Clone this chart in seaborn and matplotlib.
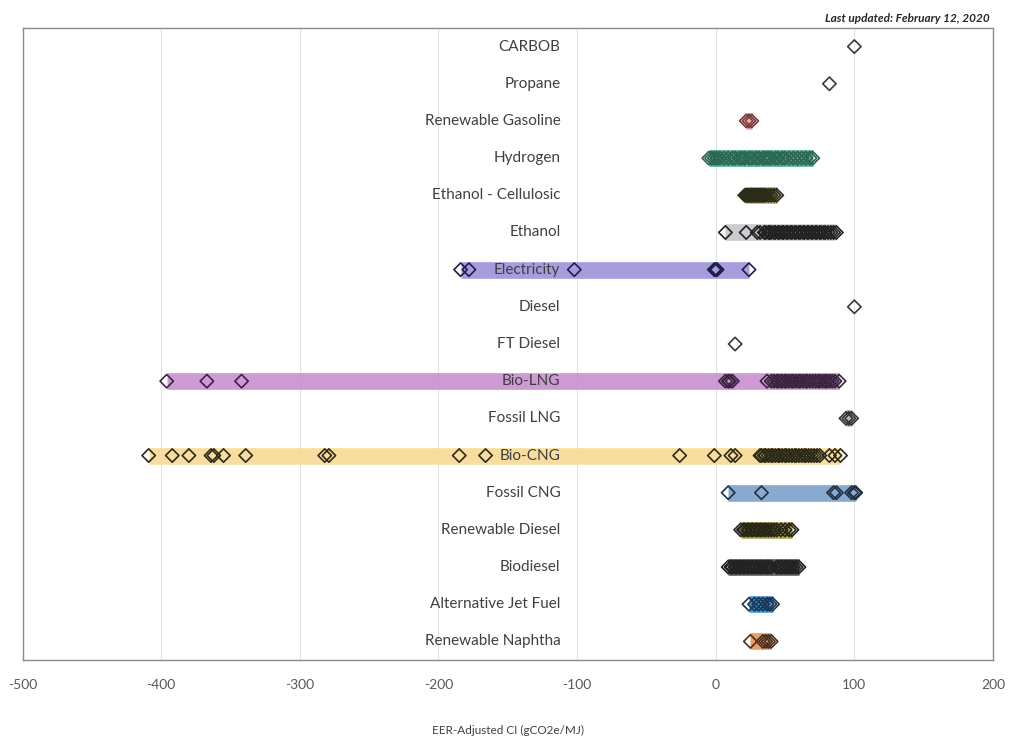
import numpy as np
import pandas as pd
import seaborn as sns
import matplotlib.pyplot as plt

sns.set_style("white")
plt.rcParams['font.family'] = ['Lato', 'DejaVu Sans']

# fuel categories, top to bottom
fuels = ['CARBOB', 'Propane', 'Renewable Gasoline', 'Hydrogen', 'Ethanol - Cellulosic',
         'Ethanol', 'Electricity', 'Diesel', 'FT Diesel', 'Bio-LNG', 'Fossil LNG',
         'Bio-CNG', 'Fossil CNG', 'Renewable Diesel', 'Biodiesel',
         'Alternative Jet Fuel', 'Renewable Naphtha']

# EER-adjusted CI of certified pathways (gCO2e/MJ)
carbob = [100]
propane = [82]
renewable_gasoline = [22, 24, 26]
hydrogen = [-5, -3, -1, 1, 3, 6, 9, 12, 14, 17, 19, 21, 24, 26, 29, 31, 34, 36, 38,
            40, 43, 45, 48, 50, 53, 56, 59, 62, 65, 68, 70]
ethanol_cellulosic = [21, 22, 23, 24, 25, 26, 27, 28, 29, 30, 31, 32, 33, 34, 35, 36,
                      38, 40, 42, 44]
ethanol = [7, 22, 30, 32, 35, 36, 38, 39, 40, 42, 43, 45, 46, 48, 49, 51, 52, 54, 55,
           57, 58, 60, 61, 63, 64, 66, 67, 69, 70, 72, 73, 75, 76, 78, 79, 81, 83, 85, 87]
electricity = [-184, -178, -102, -1, 0, 1, 24]
diesel = [100]
ft_diesel = [14]
bio_lng = [-396, -367, -342, 7, 9, 10, 12, 37, 40, 42, 44, 45, 47, 48, 50, 51, 53, 55,
           56, 58, 60, 61, 63, 65, 66, 68, 70, 72, 74, 75, 77, 79, 80, 82, 84, 86, 89]
fossil_lng = [94, 96, 98]
bio_cng = [-409, -392, -380, -364, -362, -355, -339, -282, -279, -185, -166, -26, -1,
           11, 14, 32, 33, 35, 36, 38, 40, 41, 43, 45, 46, 48, 50, 51, 53, 55, 57, 58,
           60, 62, 64, 65, 67, 69, 71, 73, 75, 82, 86, 90]
fossil_cng = [9, 33, 85, 87, 98, 100, 101]
renewable_diesel = [18, 20, 21, 23, 24, 26, 27, 29, 30, 32, 33, 35, 36, 38, 40, 42, 44,
                    47, 50, 53, 55]
biodiesel = [9, 11, 12, 14, 15, 17, 18, 20, 21, 23, 24, 26, 27, 29, 30, 32, 33, 35, 37,
             38, 40, 44, 45, 47, 48, 50, 51, 53, 54, 56, 58, 60]
alt_jet = [24, 28, 31, 34, 37, 39, 41]
renewable_naphtha = [25, 34, 36, 38, 40]

values = [carbob, propane, renewable_gasoline, hydrogen, ethanol_cellulosic, ethanol,
          electricity, diesel, ft_diesel, bio_lng, fossil_lng, bio_cng, fossil_cng,
          renewable_diesel, biodiesel, alt_jet, renewable_naphtha]

band_colors = ['#cccccc', '#cccccc', '#e8a0a8', '#3aa57f', '#b9a845', '#c6c6cb',
               '#9d93dc', '#cccccc', '#cccccc', '#c88fd0', '#b0b0b0', '#f8da95',
               '#7ba1c9', '#a89a3c', '#505050', '#2b8fd8', '#e99550']
edge_colors = ['#3a3a3a', '#3a3a3a', '#7a3b3b', '#2c6650', '#2b2b1a', '#222222',
               '#1f1f4a', '#3a3a3a', '#3a3a3a', '#3a2540', '#333333', '#2e2a18',
               '#1f2f45', '#26261a', '#222222', '#1d3550', '#4a3020']

df = pd.DataFrame({'fuel': np.repeat(fuels, [len(v) for v in values]),
                   'ci': np.concatenate(values)})

fig = plt.figure(figsize=(10.13, 7.41), dpi=100)
ax = fig.add_axes([22.5 / 1013, 1 - 660 / 741, 970.5 / 1013, 632 / 741])

# range band for each fuel
for i, f in enumerate(fuels):
    sub = df[df.fuel == f]
    ax.hlines(i, sub.ci.min(), sub.ci.max(), color=band_colors[i], lw=12,
              alpha=0.9, zorder=1, capstyle='butt')

# diamond markers
for i, f in enumerate(fuels):
    sns.stripplot(data=df[df.fuel == f], x='ci', y='fuel', order=fuels, jitter=False,
                  marker='D', s=6.8, facecolor='none', edgecolor=edge_colors[i],
                  linewidth=1.2, ax=ax, zorder=3)

# category names
for i, f in enumerate(fuels):
    ax.text(-112, i, f, ha='right', va='center', fontsize=11, color='#404040', zorder=2)

ax.set_xlim(-500, 200)
ax.set_ylim(16.5, -0.5)
ax.set_xticks(range(-500, 201, 100))
ax.set_xticklabels([str(t) for t in range(-500, 201, 100)], color='#595959', fontsize=10)
ax.tick_params(axis='x', length=0, pad=14)
ax.set_yticks([])
ax.set_ylabel('')
ax.set_xlabel('EER-Adjusted CI (gCO2e/MJ)', fontsize=8.5, color='#404040', labelpad=24)
ax.grid(axis='x', color='#e3e3e3', lw=0.8)
ax.set_axisbelow(True)
for sp in ax.spines.values():
    sp.set_color('#8c8c8c')
    sp.set_linewidth(1)

fig.text(990 / 1013, 1 - 18 / 741, 'Last updated: February 12, 2020', ha='right',
         va='center', fontsize=8.5, fontweight='bold', fontstyle='italic', color='#262626')

fig.savefig('out.png', dpi=100)
